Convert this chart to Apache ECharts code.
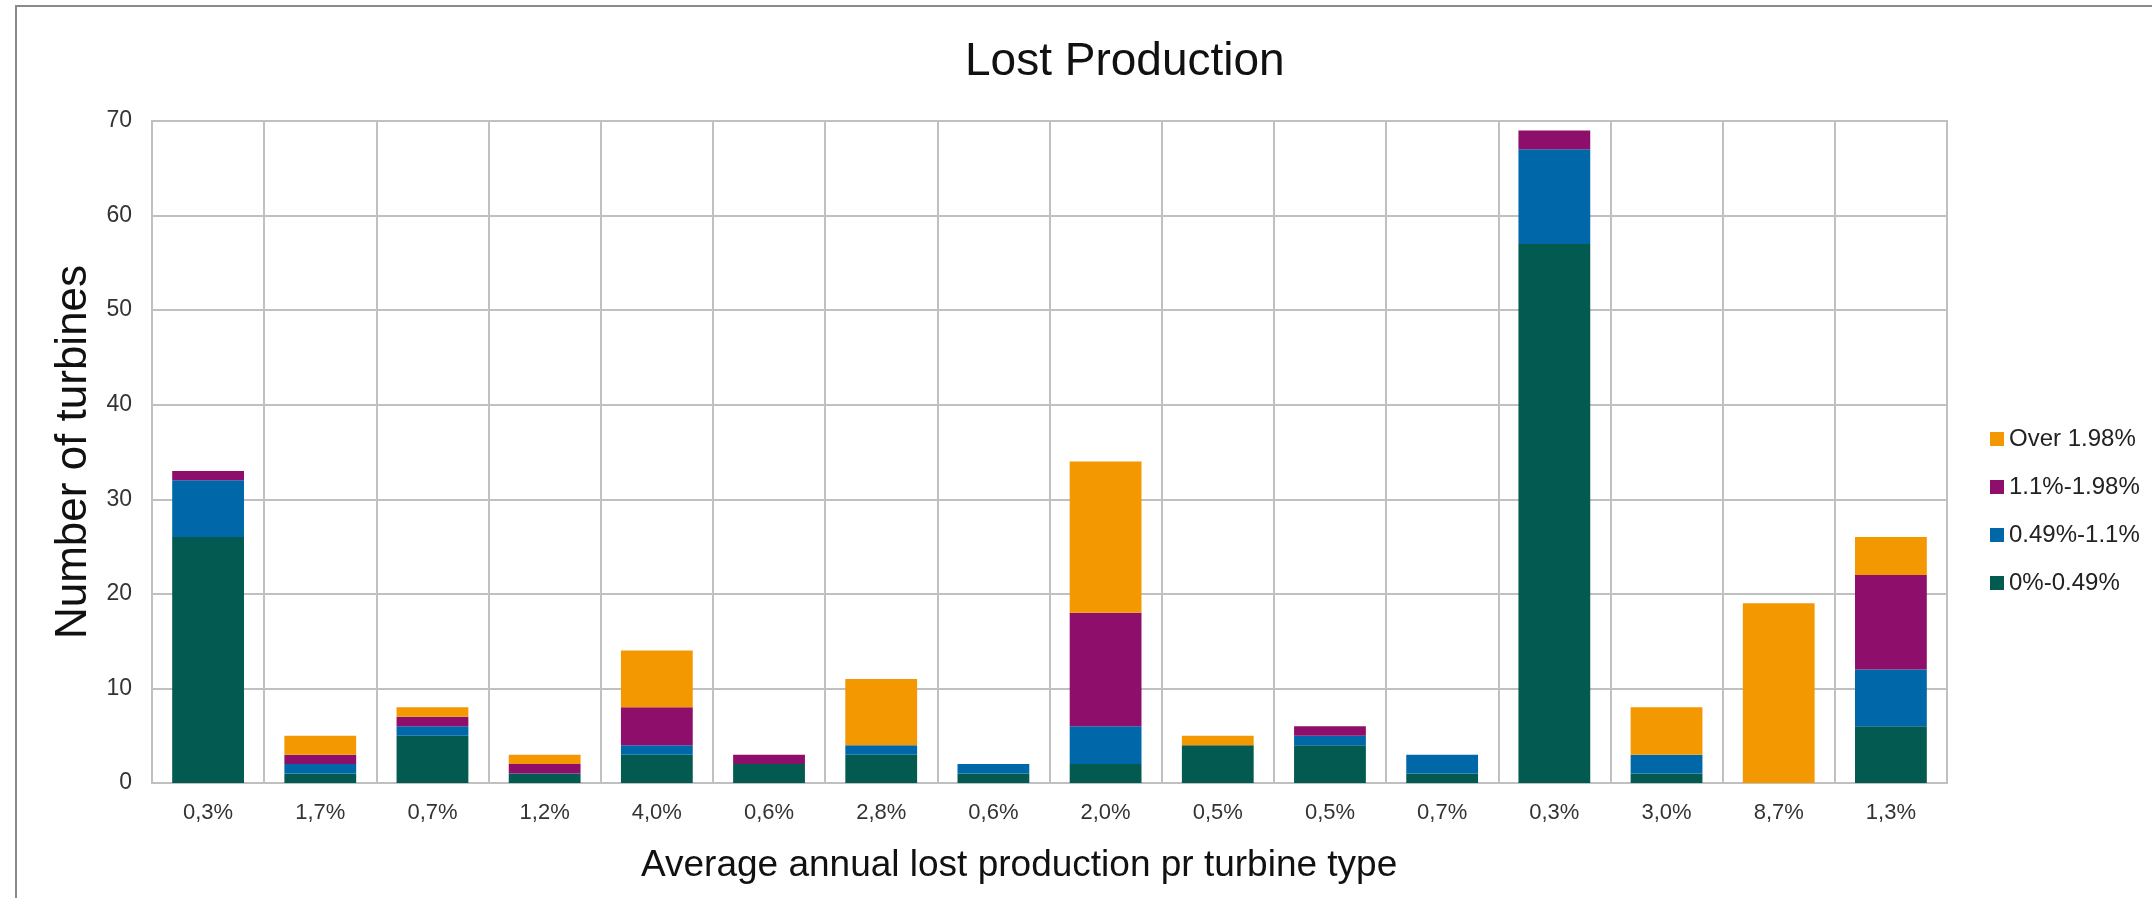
<!DOCTYPE html>
<html>
<head>
<meta charset="utf-8">
<script src="https://cdn.jsdelivr.net/npm/echarts@6/dist/echarts.min.js"></script>
<style>
html,body{margin:0;padding:0;background:#fff;}
#chart{width:2152px;height:898px;}
</style>
</head>
<body>
<div id="chart"></div>
<script>
const categories = ['0,3%','1,7%','0,7%','1,2%','4,0%','0,6%','2,8%','0,6%','2,0%','0,5%','0,5%','0,7%','0,3%','3,0%','8,7%','1,3%'];
const s0to049   = [26, 1, 5, 1, 3, 2, 3, 1, 2, 4, 4, 1, 57, 1, 0, 6];
const s049to11  = [ 6, 1, 1, 0, 1, 0, 1, 1, 4, 0, 1, 2, 10, 2, 0, 6];
const s11to198  = [ 1, 1, 1, 1, 4, 1, 0, 0,12, 0, 1, 0,  2, 0, 0,10];
const sOver198  = [ 0, 2, 1, 1, 6, 0, 7, 0,16, 1, 0, 0,  0, 5,19, 4];
const seriesNames = ['0%-0.49%','0.49%-1.1%','1.1%-1.98%','Over 1.98%'];
const legendOrder = ['Over 1.98%','1.1%-1.98%','0.49%-1.1%','0%-0.49%'];
const yTicks = {min:0, max:70, interval:10};
const colors = ['#035A50','#0068A8','#8E0F6B','#F39800'];
const FONT = 'Liberation Sans, Arial, sans-serif';

const chart = echarts.init(document.getElementById('chart'), null, {renderer:'canvas'});
const data = [s0to049, s049to11, s11to198, sOver198];
chart.setOption({
  backgroundColor:'#ffffff',
  animation:false,
  color: colors,
  title:[
    {text:'Lost Production', left:960, top:34,
     textStyle:{fontFamily:FONT, fontSize:46, fontWeight:'normal', color:'#111'}},
    {text:'Average annual lost production pr turbine type', left:636, top:842,
     textStyle:{fontFamily:FONT, fontSize:37, fontWeight:'normal', color:'#111'}}
  ],
  legend:{
    orient:'vertical', left:1985, top:422,
    data:legendOrder,
    icon:'rect', itemWidth:14, itemHeight:14, itemGap:24,
    textStyle:{fontFamily:FONT, fontSize:24, color:'#222'}
  },
  grid:{left:152, right:205, top:121, bottom:115, show:true, borderColor:'#c0c0c0', borderWidth:2, containLabel:false},
  xAxis:{
    type:'category', data:categories,
    axisLine:{show:true, lineStyle:{color:'#c0c0c0', width:2}},
    axisTick:{show:false},
    axisLabel:{fontFamily:FONT, fontSize:22, color:'#333', margin:19, interval:0},
    splitLine:{show:true, interval:0, lineStyle:{color:'#c0c0c0', width:2}}
  },
  yAxis:{
    type:'value', min:yTicks.min, max:yTicks.max, interval:yTicks.interval,
    name:'Number of turbines', nameLocation:'middle', nameGap:54, nameRotate:90,
    nameTextStyle:{fontFamily:FONT, fontSize:44, color:'#111'},
    axisLine:{show:false}, axisTick:{show:false},
    axisLabel:{fontFamily:FONT, fontSize:23, color:'#333', margin:20},
    splitLine:{show:true, lineStyle:{color:'#c0c0c0', width:2}}
  },
  series: seriesNames.map((n,i)=>({
    name:n, type:'bar', stack:'total', data:data[i], barWidth:'64%',
    itemStyle:{color:colors[i]}
  })),
  graphic:[
    {type:'rect', silent:true, z:-1, shape:{x:16, y:6, width:2200, height:1000},
     style:{fill:'none', stroke:'#8a8a8a', lineWidth:2}}
  ]
});
</script>
</body>
</html>
